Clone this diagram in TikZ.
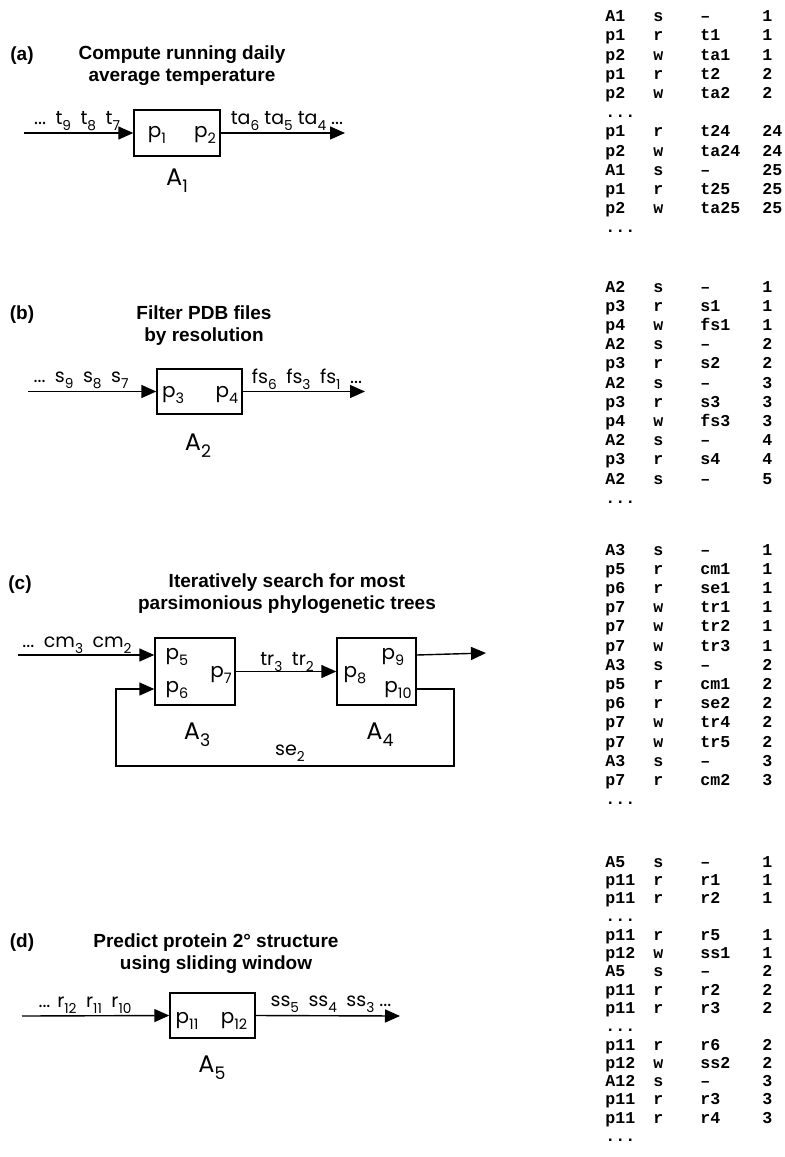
\documentclass[tikz,border=0pt]{standalone}
\usepackage{fontspec}
\setmainfont{Liberation Sans}
\newfontfamily\lblfont{Poppins}
\newfontfamily\codefont{Liberation Mono}
\usetikzlibrary{arrows.meta,calc}
\newcommand{\dn}[1]{\raisebox{-0.3em}{\scalebox{0.72}{#1}}}

\begin{document}
\begin{tikzpicture}[x=0.5pt,y=-0.5pt,
  tag/.style={font=\fontsize{9.5pt}{11pt}\selectfont\bfseries,inner sep=0pt},
  ttl/.style={align=center,font=\fontsize{9.5pt}{11pt}\selectfont\bfseries,inner sep=0pt},
  actor/.style={draw,line width=0.7pt,inner sep=0pt},
  port/.style={font=\lblfont\fontsize{10pt}{12pt}\selectfont,inner sep=0pt},
  actname/.style={font=\lblfont\fontsize{12pt}{14pt}\selectfont,inner sep=0pt,anchor=base},
  strm/.style={font=\lblfont\fontsize{9.5pt}{11pt}\selectfont,inner sep=0pt},
  flow/.style={-{Triangle[length=7.5pt,width=6.5pt]},line width=0.7pt},
  tbl/.style={font=\codefont\bfseries\fontsize{8.3pt}{9.6pt}\selectfont,inner sep=0pt,anchor=base west},
]
\useasboundingbox (0,0) rectangle (785,1157);

% (a) running daily average
\node[tag] (taga) at (22,56) {(a)};
\node[ttl] (ttla) at (182,66) {Compute running daily\\average temperature};
\node[actor,minimum width=43pt,minimum height=23pt] (A1) at (177,133) {};
\node[port] (p1) at (157,135) {p\dn{1}};
\node[port] (p2) at (205,135) {p\dn{2}};
\node[actname] (nA1) at (177,185) {A\dn{1}};
\coordinate (ina) at (24,133);
\coordinate (outa) at (345,133);
\draw[flow] (ina) -- (A1.west);
\draw[flow] (A1.east) -- (outa);
\node[strm] (sina) at (77,121) {...\enspace t\dn{9}\enspace t\dn{8}\enspace t\dn{7}};
\node[strm] (souta) at (287,121) {ta\dn{6} ta\dn{5} ta\dn{4} ...};

% (b) filter PDB files
\node[tag] (tagb) at (22,315) {(b)};
\node[ttl] (ttlb) at (204,326) {Filter PDB files\\by resolution};
\node[actor,minimum width=42.5pt,minimum height=22.5pt] (A2) at (199.5,391.5) {};
\node[port] (p3) at (173,395) {p\dn{3}};
\node[port] (p4) at (227,395) {p\dn{4}};
\node[actname] (nA2) at (198,450) {A\dn{2}};
\coordinate (inb) at (28,391.5);
\coordinate (outb) at (365,391.5);
\draw[flow] (inb) -- (A2.west);
\draw[flow] (A2.east) -- (outb);
\node[strm] (sinb) at (81,380) {...\enspace s\dn{9}\enspace s\dn{8}\enspace s\dn{7}};
\node[strm] (soutb) at (307,379) {fs\dn{6}\enspace fs\dn{3}\enspace fs\dn{1}\enspace...};

% (c) parsimonious trees, with feedback
\node[tag] (tagc) at (20,585) {(c)};
\node[ttl] (ttlc) at (287,594) {Iteratively search for most\\parsimonious phylogenetic trees};
\node[actor,minimum width=40pt,minimum height=33.5pt] (A3) at (195,671.5) {};
\node[actor,minimum width=39.5pt,minimum height=33.5pt] (A4) at (376.5,671.5) {};
\node[port] (p5) at (177,657) {p\dn{5}};
\node[port] (p6) at (177,690) {p\dn{6}};
\node[port] (p7) at (221,675) {p\dn{7}};
\node[port] (p8) at (355,675) {p\dn{8}};
\node[port] (p9) at (393,657) {p\dn{9}};
\node[port] (p10) at (398,690) {p\dn{10}};
\node[actname] (nA3) at (197,739) {A\dn{3}};
\node[actname] (nA4) at (380,739) {A\dn{4}};
\coordinate (inc) at (18,655);
\coordinate (outc) at (486,653);
\coordinate (fbr) at (454,766);
\coordinate (fbl) at (116,766);
\draw[flow] (inc) -- (inc -| A3.west);
\draw[flow] (A3) -- (A4);
\draw[flow] ([yshift=8.25pt]A4.east) -- (outc);
\draw[flow] ([yshift=-8.75pt]A4.east) -| (fbr) -- (fbl) |- ([yshift=-8.75pt]A3.west);
\node[strm] (sinc) at (77,645) {...\enspace cm\dn{3}\enspace cm\dn{2}};
\node[strm] (smidc) at (287,662) {tr\dn{3}\enspace tr\dn{2}};
\node[strm] (sfbc) at (290,753) {se\dn{2}};

% (d) sliding window
\node[tag] (tagd) at (22,943) {(d)};
\node[ttl] (ttld) at (216,954) {Predict protein 2\textdegree{} structure\\using sliding window};
\node[actor,minimum width=42.5pt,minimum height=22.5pt] (A5) at (212.5,1015.5) {};
\node[port] (p11) at (187,1021) {p\dn{11}};
\node[port] (p12) at (234,1021) {p\dn{12}};
\node[actname] (nA5) at (212,1072) {A\dn{5}};
\coordinate (ind) at (22,1016);
\coordinate (outd) at (400,1016);
\draw[flow] (ind) -- (A5.west);
\draw[flow] (A5.east) -- (outd);
\node[strm] (sind) at (85,1005) {... r\dn{12}\enspace r\dn{11}\enspace r\dn{10}};
\node[strm] (soutd) at (331,1004) {ss\dn{5}\enspace ss\dn{4}\enspace ss\dn{3} ...};

% traces
\node[tbl] (tra) at (605,21.7) {\begin{tabular}[t]{@{}p{24pt}@{}p{23.5pt}@{}p{31pt}@{}l@{}}
A1 & s & \textendash & 1\\ p1 & r & t1 & 1\\ p2 & w & ta1 & 1\\ p1 & r & t2 & 2\\ p2 & w & ta2 & 2\\
... &&&\\ p1 & r & t24 & 24\\ p2 & w & ta24 & 24\\ A1 & s & \textendash & 25\\ p1 & r & t25 & 25\\
p2 & w & ta25 & 25\\ ... &&&
\end{tabular}};
\node[tbl] (trb) at (605,292) {\begin{tabular}[t]{@{}p{24pt}@{}p{23.5pt}@{}p{31pt}@{}l@{}}
A2 & s & \textendash & 1\\ p3 & r & s1 & 1\\ p4 & w & fs1 & 1\\ A2 & s & \textendash & 2\\ p3 & r & s2 & 2\\
A2 & s & \textendash & 3\\ p3 & r & s3 & 3\\ p4 & w & fs3 & 3\\ A2 & s & \textendash & 4\\ p3 & r & s4 & 4\\
A2 & s & \textendash & 5\\ ... &&&
\end{tabular}};
\node[tbl] (trc) at (605,555) {\begin{tabular}[t]{@{}p{24pt}@{}p{23.5pt}@{}p{31pt}@{}l@{}}
A3 & s & \textendash & 1\\ p5 & r & cm1 & 1\\ p6 & r & se1 & 1\\ p7 & w & tr1 & 1\\ p7 & w & tr2 & 1\\
p7 & w & tr3 & 1\\ A3 & s & \textendash & 2\\ p5 & r & cm1 & 2\\ p6 & r & se2 & 2\\ p7 & w & tr4 & 2\\
p7 & w & tr5 & 2\\ A3 & s & \textendash & 3\\ p7 & r & cm2 & 3\\ ... &&&
\end{tabular}};
\node[tbl,font=\codefont\bfseries\fontsize{8.3pt}{9.15pt}\selectfont] (trd) at (605,867) {\begin{tabular}[t]{@{}p{24pt}@{}p{23.5pt}@{}p{31pt}@{}l@{}}
A5 & s & \textendash & 1\\ p11 & r & r1 & 1\\ p11 & r & r2 & 1\\ ... &&&\\ p11 & r & r5 & 1\\
p12 & w & ss1 & 1\\ A5 & s & \textendash & 2\\ p11 & r & r2 & 2\\ p11 & r & r3 & 2\\ ... &&&\\
p11 & r & r6 & 2\\ p12 & w & ss2 & 2\\ A12 & s & \textendash & 3\\ p11 & r & r3 & 3\\ p11 & r & r4 & 3\\
... &&&
\end{tabular}};
\end{tikzpicture}
\end{document}
